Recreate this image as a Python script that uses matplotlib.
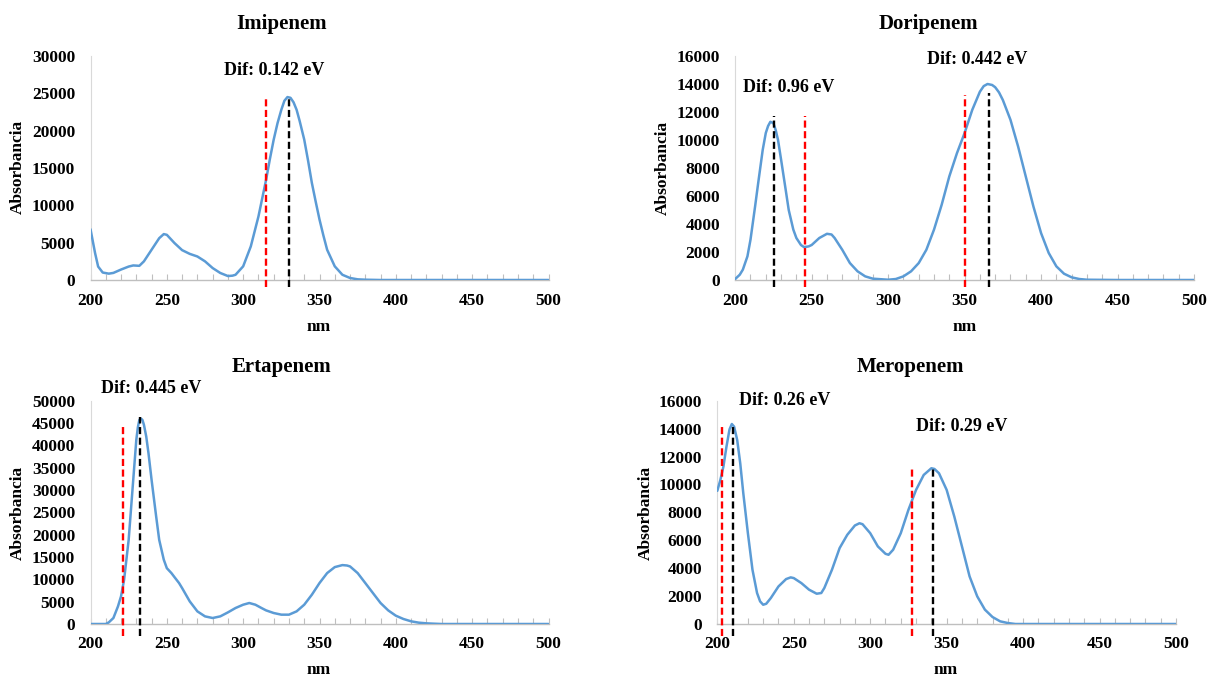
import matplotlib
matplotlib.use("Agg")
import matplotlib.pyplot as plt
import numpy as np

plt.rcParams['font.family'] = ['Liberation Serif', 'DejaVu Serif']
plt.rcParams['font.weight'] = 'bold'

# ---------------- data ----------------
imi_nm = [200, 203, 205, 208, 212, 215, 220, 225, 228, 232, 235, 240, 245, 248, 250, 255, 260, 265, 270, 275,
          280, 285, 290, 293, 295, 300, 305, 310, 315, 317.5, 320, 322.5, 325, 327, 329, 331, 333, 335, 337, 340,
          342.5, 345, 347.5, 350, 352.5, 355, 360, 365, 370, 375, 380, 390, 400, 450, 500]
imi_abs = [6800, 3600, 1800, 1000, 850, 950, 1400, 1800, 1950, 1900, 2500, 4050, 5600, 6150, 6050, 4950, 4000, 3500, 3150, 2500,
           1600, 940, 530, 580, 700, 1830, 4500, 8500, 13400, 16200, 18800, 21000, 22800, 24000, 24500, 24400, 23800, 22800, 21300, 18800,
           16000, 13000, 10500, 8100, 6000, 4050, 1830, 700, 270, 90, 40, 0, 0, 0, 0]

dor_nm = [200, 203, 205, 208, 210, 213, 215, 218, 220, 221.5, 223, 225, 226.5, 228, 230, 233, 235, 238, 240, 243,
          245, 248, 250, 255, 260, 263, 265, 270, 275, 280, 285, 290, 300, 305, 310, 315, 320, 325, 330, 335,
          340, 345, 350, 355, 360, 362.5, 365, 368, 370, 372.5, 375, 380, 385, 390, 395, 400, 405, 410, 415, 420,
          425, 430, 450, 500]
dor_abs = [70, 380, 740, 1690, 2880, 5250, 6900, 9300, 10500, 11000, 11300, 11200, 10700, 10000, 8600, 6450, 5000, 3600, 3000, 2500,
           2350, 2400, 2500, 3000, 3300, 3250, 3000, 2160, 1210, 620, 260, 95, 20, 70, 260, 620, 1210, 2160, 3600, 5370,
           7400, 9060, 10500, 12150, 13450, 13850, 14000, 13930, 13770, 13400, 12860, 11440, 9530, 7390, 5250, 3350, 1930, 975, 450, 190,
           70, 20, 0, 0]

ert_nm = [200, 210, 212, 215, 218, 220, 222, 225, 228, 230, 231, 232, 233, 234, 235, 236.5, 238, 240, 243, 245,
          248, 250, 253, 255, 258, 260, 265, 270, 275, 280, 285, 290, 295, 300, 304, 308, 312, 315, 320, 325,
          330, 335, 340, 345, 350, 355, 360, 365, 368, 370, 375, 380, 385, 390, 395, 400, 405, 410, 415, 420,
          425, 430, 450, 500]
ert_abs = [0, 0, 370, 1340, 3950, 6200, 9900, 18850, 32300, 41200, 44000, 45700, 46000, 45700, 44600, 42000, 38200, 32300, 24100, 18850,
           14400, 12500, 11400, 10500, 9170, 8050, 5070, 2830, 1710, 1340, 1710, 2600, 3580, 4320, 4700, 4320, 3580, 3050, 2460, 2090,
           2090, 2830, 4320, 6560, 9170, 11400, 12740, 13190, 13100, 12890, 11400, 9170, 6930, 4700, 3050, 1860, 1120, 600, 300, 150,
           70, 0, 0, 0]

mer_nm = [200, 202, 204, 206, 208, 209.5, 211, 213, 215, 217, 220, 223, 226, 228, 230, 232, 235, 240, 245, 248,
          250, 255, 260, 265, 268, 270, 275, 280, 285, 290, 293, 295, 300, 305, 310, 312, 315, 320, 325, 330,
          335, 340, 342, 345, 350, 355, 360, 365, 370, 375, 380, 385, 390, 395, 450, 500]
mer_abs = [9540, 10320, 11280, 12710, 13950, 14330, 14140, 13190, 11520, 9370, 6510, 3890, 2220, 1620, 1380, 1450, 1860, 2690, 3220, 3340,
           3290, 2930, 2460, 2170, 2220, 2580, 3890, 5440, 6390, 7060, 7220, 7150, 6510, 5560, 5030, 4960, 5320, 6510, 8180, 9610,
           10680, 11160, 11110, 10800, 9610, 7700, 5560, 3410, 1980, 1030, 500, 190, 70, 0, 0, 0]

titles = ["Imipenem", "Doripenem", "Ertapenem", "Meropenem"]
y_max = [30000, 16000, 50000, 16000]
y_step = [5000, 2000, 5000, 2000]

# vertical marker lines: (nm, top value)
red_lines = [[(315, 24500)], [(245.7, 11720), (350.5, 13220)], [(221, 44600)], [(203, 14260), (327.3, 11160)]]
black_lines = [[(330, 24500)], [(225.2, 11720), (366, 13340)], [(232.7, 46300)], [(210.2, 14350), (340.8, 11160)]]
line_bottom = [-900, -500, -2700, -860]

# annotations: (text, nm, value)
notes = [[("Dif: 0.142 eV", 320, 28100)],
         [("Dif: 0.96 eV", 234.7, 13770), ("Dif: 0.442 eV", 358.5, 15760)],
         [("Dif: 0.445 eV", 240, 52760)],
         [("Dif: 0.26 eV", 244, 16050), ("Dif: 0.29 eV", 360, 14140)]]

series = [(imi_nm, imi_abs), (dor_nm, dor_abs), (ert_nm, ert_abs), (mer_nm, mer_abs)]

# ---------------- layout ----------------
W, H = 1219, 677
fig = plt.figure(figsize=(W / 100, H / 100), dpi=100)

# pixel boxes (left, right, top, bottom)
boxes = [(90.5, 548.5, 56, 280), (735.2, 1194, 56, 280), (90.5, 548.5, 400.7, 624), (717.3, 1176, 400.7, 624)]
title_pos = [(282, 24), (928, 24), (282, 367), (910, 367)]
ylab_pos = [(18, 167), (663, 168), (18, 513), (646, 513)]
xlab_pos = [(319, 327), (965, 327), (319, 670), (946, 670)]

blue = '#5B9BD5'
for i in range(4):
    l, r, t, b = boxes[i]
    ax = fig.add_axes([l / W, 1 - b / H, (r - l) / W, (b - t) / H])
    x, y = series[i]
    ax.plot(x, y, color=blue, lw=1.8, solid_capstyle='round', solid_joinstyle='round', zorder=3)
    ax.set_xlim(200, 500)
    ax.set_ylim(0, y_max[i])
    ax.set_xticks(np.arange(200, 501, 50))
    ax.set_xticks(np.arange(200, 501, 10), minor=True)
    ax.set_yticks(np.arange(0, y_max[i] + 1, y_step[i]))
    for s in ['top', 'right']:
        ax.spines[s].set_visible(False)
    ax.spines['left'].set_color('#d9d9d9')
    ax.spines['bottom'].set_color('#bfbfbf')
    ax.spines['bottom'].set_linewidth(1.0)
    ax.tick_params(axis='x', which='both', direction='in', length=4, width=0.8, color='#bfbfbf',
                   labelsize=12.5, pad=9)
    ax.tick_params(axis='y', which='both', length=0, labelsize=12.5, pad=11)
    for lab in ax.get_xticklabels() + ax.get_yticklabels():
        lab.set_fontweight('bold')
    ax.patch.set_alpha(0)

    for (xn, top) in red_lines[i]:
        ax.plot([xn, xn], [line_bottom[i], top], color='#ff0000', lw=1.7, ls=(0, (3, 1.5)),
                clip_on=False, zorder=4)
    for (xn, top) in black_lines[i]:
        ax.plot([xn, xn], [line_bottom[i], top], color='#000000', lw=1.7, ls=(0, (3, 1.5)),
                clip_on=False, zorder=4)
    for (txt, xn, yv) in notes[i]:
        ax.text(xn, yv, txt, ha='center', va='center', fontsize=13, fontweight='bold', clip_on=False)

    tx, ty = title_pos[i]
    fig.text(tx / W, 1 - ty / H, titles[i], ha='center', va='center', fontsize=15, fontweight='bold')
    yx, yy = ylab_pos[i]
    fig.text(yx / W, 1 - yy / H, "Absorbancia", ha='center', va='center', rotation=90, fontsize=12.5,
             fontweight='bold')
    xx, xy = xlab_pos[i]
    fig.text(xx / W, 1 - xy / H, "nm", ha='center', va='center', fontsize=12.5, fontweight='bold')

fig.savefig("out.png", dpi=100)
